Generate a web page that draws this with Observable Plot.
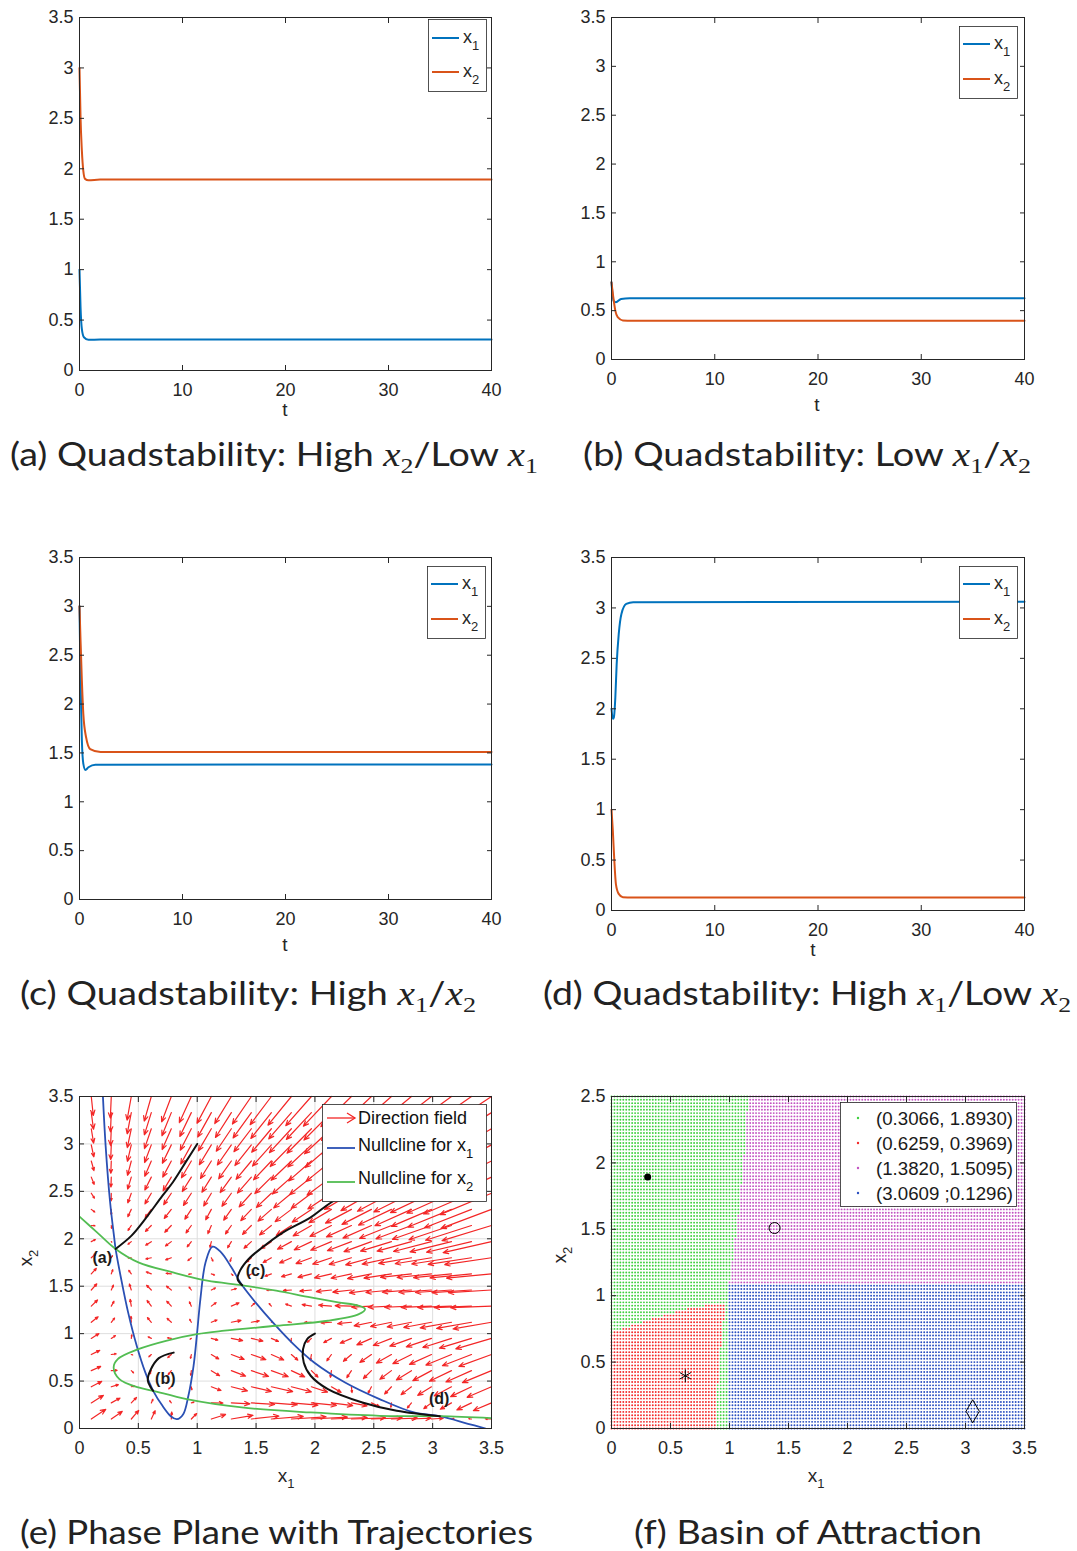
<!DOCTYPE html>
<html><head><meta charset="utf-8">
<script src="https://cdn.jsdelivr.net/npm/d3@7"></script>
<script src="https://cdn.jsdelivr.net/npm/@observablehq/plot@0.6"></script>
<style>
body{margin:0;background:#fff;}
#page{position:relative;width:1077px;height:1551px;overflow:hidden;background:#fff;}
#page svg{position:absolute;}
</style></head><body><div id="page"></div>
<script>
// ---------- time-series data ----------
const a_t1=[0,0.1,0.23,0.43,0.87,2,40];       const a_x1=[1.0,0.63,0.41,0.33,0.305,0.3066,0.3066];
const a_t2=[0,0.1,0.23,0.37,0.54,0.87,2,40];  const a_x2=[3.0,2.51,2.18,1.98,1.90,1.886,1.893,1.893];
const b_t1=[0,0.2,0.43,0.93,1.76,40];         const b_x1=[0.79,0.60,0.586,0.62,0.626,0.6259];
const b_t2=[0,0.17,0.37,0.6,1.1,2,40];        const b_x2=[0.79,0.64,0.50,0.433,0.40,0.397,0.3969];
const c_t1=[0,0.1,0.23,0.37,0.57,0.87,1.54,40]; const c_x1=[3.0,2.24,1.63,1.39,1.326,1.353,1.38,1.382];
const c_t2=[0,0.1,0.23,0.37,0.64,1.04,2.04,40]; const c_x2=[3.0,2.65,2.24,1.90,1.66,1.54,1.51,1.5095];
const d_t1=[0,0.13,0.23,0.37,0.5,0.7,0.96,1.43,2.1,40]; const d_x1=[2.0,1.90,1.915,2.11,2.44,2.74,2.94,3.04,3.057,3.0609];
const d_t2=[0,0.13,0.27,0.43,0.7,1.1,2,40];  const d_x2=[1.0,0.79,0.50,0.26,0.165,0.132,0.1296,0.1296];

const tTicks=[0,10,20,30,40];
const yTicks35=[0,0.5,1,1.5,2,2.5,3,3.5];
const xTicks35=[0,0.5,1,1.5,2,2.5,3,3.5];
const yTicks25=[0,0.5,1,1.5,2,2.5];

// ---------- phase plane data ----------
const nullX1_x=[0.199,0.222,0.26,0.296,0.3066,0.354,0.413,0.486,0.559,0.6259,0.705,0.778,0.828,0.881,0.925,0.969,0.998,1.027,1.071,1.13,1.203,1.29,1.382,1.495,1.642,1.817,1.993,2.256,2.549,2.842,3.0609,3.30,3.45];
const nullX1_y=[3.5,2.98,2.385,2.0,1.893,1.576,1.224,0.872,0.591,0.3969,0.239,0.127,0.098,0.151,0.345,0.661,0.995,1.365,1.752,1.917,1.857,1.699,1.5095,1.33,1.119,0.89,0.696,0.485,0.31,0.169,0.1296,0.05,0.0];
const nullX2_x=[0,0.149,0.3066,0.5,0.793,1.086,1.382,1.671,1.964,2.198,2.373,2.426,2.373,2.11,1.671,1.232,0.998,0.735,0.5,0.325,0.29,0.339,0.5,0.6259,0.91,1.378,1.964,2.549,3.0609,3.5];
const nullX2_y=[2.234,2.068,1.893,1.752,1.646,1.558,1.5095,1.453,1.382,1.33,1.294,1.259,1.206,1.136,1.083,1.031,0.995,0.925,0.837,0.732,0.644,0.521,0.433,0.3969,0.31,0.222,0.169,0.134,0.1296,0.109];
const trajA_x=[1.0,0.91,0.793,0.705,0.559,0.442,0.3066]; const trajA_y=[3.0,2.824,2.596,2.455,2.209,2.033,1.893];
const trajB_x=[0.8,0.674,0.603,0.58,0.603,0.6259];     const trajB_y=[0.8,0.742,0.615,0.509,0.438,0.3969];
const trajC_x=[3.0,2.6,2.14,1.964,1.73,1.554,1.437,1.364,1.343,1.382]; const trajC_y=[3.0,2.7,2.385,2.226,2.068,1.91,1.787,1.664,1.576,1.5095];
const trajD_x=[2.0,1.934,1.899,1.905,1.964,2.11,2.403,2.695,3.0609]; const trajD_y=[1.0,0.943,0.837,0.696,0.556,0.415,0.274,0.186,0.1296];
const trajLabels=["(a)","(b)","(c)","(d)"];
const trajLabel_x=[0.193,0.729,1.495,3.055];
const trajLabel_y=[1.804,0.528,1.664,0.31];

// direction field: grid positions and arrow components as drawn
const fieldX=[0.1,0.27,0.44,0.61,0.78,0.95,1.12,1.29,1.46,1.63,1.8,1.97,2.14,2.31,2.48,2.65,2.82,2.99,3.16,3.33,3.5];
const fieldY=[0.1,0.27,0.44,0.61,0.78,0.95,1.12,1.29,1.46,1.63,1.8,1.97,2.14,2.31,2.48,2.65,2.82,2.99,3.16,3.33,3.5];
// horizontal components, one row per fieldY value
const fieldU=[
[0.123,0.093,0.063,0.033,0.004,0.045,0.121,0.184,0.234,0.271,0.295,0.306,0.304,0.29,0.262,0.221,0.167,0.10,0.021,-0.023,-0.053],
[0.103,0.074,0.044,0.014,-0.014,0.023,0.099,0.157,0.197,0.22,0.225,0.212,0.181,0.133,0.068,-0.005,-0.035,-0.065,-0.095,-0.124,-0.154],
[0.089,0.06,0.03,0,-0.022,0.005,0.082,0.137,0.17,0.181,0.17,0.137,0.082,0.005,-0.028,-0.058,-0.088,-0.117,-0.147,-0.177,-0.207],
[0.08,0.05,0.02,-0.012,-0.027,-0.004,0.07,0.121,0.146,0.143,0.113,0.056,-0.009,-0.039,-0.068,-0.098,-0.128,-0.158,-0.187,-0.217,-0.247],
[0.072,0.042,0.012,-0.021,-0.03,-0.007,0.063,0.109,0.123,0.105,0.055,-0.009,-0.039,-0.068,-0.098,-0.128,-0.158,-0.187,-0.217,-0.247,-0.277],
[0.065,0.035,0.005,-0.027,-0.033,-0.011,0.055,0.096,0.098,0.06,-0.005,-0.035,-0.065,-0.095,-0.124,-0.154,-0.184,-0.214,-0.243,-0.273,-0.303],
[0.058,0.028,-0.003,-0.033,-0.036,-0.014,0.048,0.082,0.068,0.005,-0.028,-0.058,-0.088,-0.117,-0.147,-0.177,-0.207,-0.236,-0.266,-0.296,-0.326],
[0.053,0.023,-0.01,-0.036,-0.039,-0.016,0.041,0.065,0.028,-0.019,-0.049,-0.079,-0.109,-0.138,-0.168,-0.198,-0.228,-0.257,-0.287,-0.317,-0.347],
[0.047,0.018,-0.016,-0.04,-0.041,-0.019,0.035,0.043,-0.009,-0.039,-0.068,-0.098,-0.128,-0.158,-0.187,-0.217,-0.247,-0.277,-0.306,-0.336,-0.366],
[0.043,0.013,-0.022,-0.043,-0.044,-0.023,0.027,0.014,-0.025,-0.054,-0.084,-0.114,-0.144,-0.173,-0.203,-0.233,-0.263,-0.292,-0.322,-0.352,-0.382],
[0.039,0.01,-0.026,-0.047,-0.048,-0.029,0.014,-0.011,-0.04,-0.07,-0.1,-0.13,-0.159,-0.189,-0.219,-0.249,-0.278,-0.308,-0.338,-0.368,-0.397],
[0.035,0.005,-0.028,-0.048,-0.05,-0.035,-0.012,-0.032,-0.062,-0.09,-0.118,-0.146,-0.175,-0.204,-0.233,-0.263,-0.292,-0.322,-0.352,-0.382,-0.411],
[0.032,0.003,-0.028,-0.05,-0.055,-0.045,-0.03,-0.05,-0.075,-0.1,-0.128,-0.155,-0.182,-0.212,-0.242,-0.271,-0.301,-0.331,-0.361,-0.39,-0.42],
[0.03,0,-0.03,-0.052,-0.06,-0.055,-0.048,-0.065,-0.09,-0.114,-0.138,-0.163,-0.191,-0.22,-0.25,-0.28,-0.31,-0.34,-0.369,-0.399,-0.429],
[0.027,-0.001,-0.03,-0.054,-0.065,-0.067,-0.065,-0.08,-0.104,-0.127,-0.15,-0.172,-0.2,-0.229,-0.259,-0.289,-0.319,-0.348,-0.378,-0.408,-0.438],
[0.025,-0.003,-0.031,-0.055,-0.07,-0.077,-0.08,-0.095,-0.118,-0.14,-0.162,-0.184,-0.207,-0.235,-0.264,-0.294,-0.324,-0.354,-0.383,-0.413,-0.443],
[0.023,-0.004,-0.032,-0.056,-0.073,-0.084,-0.092,-0.108,-0.13,-0.151,-0.172,-0.193,-0.215,-0.24,-0.268,-0.297,-0.327,-0.357,-0.386,-0.416,-0.446],
[0.022,-0.005,-0.033,-0.057,-0.076,-0.09,-0.102,-0.119,-0.14,-0.16,-0.18,-0.2,-0.222,-0.245,-0.272,-0.3,-0.33,-0.36,-0.389,-0.419,-0.449],
[0.02,-0.006,-0.034,-0.058,-0.078,-0.094,-0.11,-0.128,-0.148,-0.167,-0.187,-0.207,-0.228,-0.25,-0.275,-0.303,-0.332,-0.362,-0.392,-0.421,-0.451],
[0.019,-0.007,-0.035,-0.059,-0.08,-0.098,-0.116,-0.135,-0.155,-0.174,-0.193,-0.213,-0.233,-0.255,-0.279,-0.306,-0.335,-0.364,-0.394,-0.423,-0.453],
[0.017,-0.008,-0.036,-0.06,-0.082,-0.102,-0.122,-0.141,-0.161,-0.18,-0.199,-0.218,-0.238,-0.26,-0.283,-0.309,-0.337,-0.366,-0.396,-0.425,-0.455]];
// vertical components, one column per fieldX value (listed bottom to top)
const fieldV_cols=[
[0.102,0.08,0.058,0.044,0.044,0.051,0.058,0.065,0.065,0.058,0.044,0.022,-0.003,-0.028,-0.052,-0.077,-0.102,-0.126,-0.151,-0.175,-0.2],
[0.08,0.051,0.022,0.004,0.007,0.029,0.044,0.051,0.051,0.044,0.022,-0.006,-0.03,-0.055,-0.08,-0.104,-0.129,-0.154,-0.178,-0.203,-0.228],
[0.09,0.057,0.007,-0.024,-0.005,0.037,0.062,0.071,0.062,0.037,-0.003,-0.028,-0.052,-0.077,-0.102,-0.126,-0.151,-0.175,-0.2,-0.225,-0.249],
[0.087,0.038,-0.011,-0.035,-0.024,0.017,0.049,0.06,0.05,0.021,-0.013,-0.038,-0.062,-0.087,-0.112,-0.136,-0.161,-0.186,-0.21,-0.235,-0.26],
[0.073,0.023,-0.022,-0.042,-0.032,0.006,0.041,0.052,0.041,0.006,-0.022,-0.046,-0.071,-0.096,-0.12,-0.145,-0.17,-0.194,-0.219,-0.244,-0.268],
[0.058,0.009,-0.032,-0.049,-0.041,-0.008,0.031,0.045,0.031,-0.004,-0.029,-0.054,-0.078,-0.103,-0.128,-0.152,-0.177,-0.202,-0.226,-0.251,-0.276],
[0.048,-0.001,-0.039,-0.054,-0.047,-0.018,0.024,0.038,0.022,-0.012,-0.036,-0.061,-0.086,-0.11,-0.135,-0.16,-0.184,-0.209,-0.233,-0.258,-0.283],
[0.039,-0.01,-0.044,-0.058,-0.051,-0.023,0.019,0.035,0.016,-0.015,-0.04,-0.065,-0.089,-0.114,-0.138,-0.163,-0.188,-0.212,-0.237,-0.262,-0.286],
[0.032,-0.016,-0.049,-0.061,-0.054,-0.028,0.015,0.031,0.008,-0.02,-0.045,-0.07,-0.094,-0.119,-0.144,-0.168,-0.193,-0.218,-0.242,-0.267,-0.291],
[0.028,-0.02,-0.051,-0.064,-0.058,-0.032,0.01,0.027,-0.001,-0.025,-0.05,-0.075,-0.099,-0.124,-0.149,-0.173,-0.198,-0.223,-0.247,-0.272,-0.297],
[0.023,-0.024,-0.054,-0.066,-0.06,-0.036,0.005,0.022,-0.006,-0.03,-0.055,-0.08,-0.104,-0.129,-0.154,-0.178,-0.203,-0.228,-0.252,-0.277,-0.302],
[0.02,-0.026,-0.056,-0.069,-0.064,-0.041,-0.001,0.017,-0.012,-0.036,-0.061,-0.086,-0.11,-0.135,-0.16,-0.184,-0.209,-0.233,-0.258,-0.283,-0.307],
[0.016,-0.029,-0.059,-0.071,-0.066,-0.044,-0.006,0.011,-0.017,-0.042,-0.067,-0.091,-0.116,-0.141,-0.165,-0.19,-0.215,-0.239,-0.264,-0.289,-0.313],
[0.013,-0.032,-0.061,-0.074,-0.071,-0.051,-0.015,0.005,-0.022,-0.046,-0.071,-0.096,-0.12,-0.145,-0.17,-0.194,-0.219,-0.244,-0.268,-0.293,-0.318],
[0.011,-0.038,-0.068,-0.083,-0.083,-0.068,-0.038,-0.01,-0.03,-0.05,-0.075,-0.105,-0.133,-0.158,-0.183,-0.207,-0.232,-0.257,-0.281,-0.306,-0.331],
[0.01,-0.046,-0.076,-0.091,-0.09,-0.075,-0.045,-0.012,-0.026,-0.044,-0.068,-0.1,-0.135,-0.165,-0.19,-0.215,-0.239,-0.264,-0.289,-0.313,-0.338],
[0.009,-0.053,-0.083,-0.098,-0.097,-0.082,-0.05,-0.012,-0.022,-0.036,-0.06,-0.1,-0.14,-0.172,-0.197,-0.222,-0.246,-0.271,-0.296,-0.32,-0.345],
[0.008,-0.06,-0.09,-0.105,-0.104,-0.089,-0.055,-0.013,-0.024,-0.038,-0.063,-0.104,-0.145,-0.179,-0.204,-0.229,-0.253,-0.278,-0.303,-0.327,-0.352],
[0.006,-0.067,-0.097,-0.112,-0.111,-0.096,-0.06,-0.014,-0.026,-0.04,-0.066,-0.108,-0.15,-0.186,-0.211,-0.236,-0.26,-0.285,-0.31,-0.334,-0.359],
[0.004,-0.074,-0.104,-0.119,-0.118,-0.103,-0.065,-0.015,-0.027,-0.042,-0.069,-0.112,-0.155,-0.193,-0.218,-0.243,-0.267,-0.292,-0.317,-0.341,-0.366],
[0.003,-0.081,-0.111,-0.126,-0.125,-0.11,-0.07,-0.016,-0.028,-0.044,-0.072,-0.116,-0.16,-0.2,-0.225,-0.25,-0.274,-0.299,-0.324,-0.348,-0.373]];

// ---------- basin data ----------
const equilibria_x=[0.3066,0.6259,1.3820,3.0609];
const equilibria_y=[1.8930,0.3969,1.5095,0.1296];
const basinLabels=["(0.3066, 1.8930)","(0.6259, 0.3969)","(1.3820, 1.5095)","(3.0609 ;0.1296)"];
const basinColors=["#3fcf3f","#f22a2a","#c253c2","#2a4fc0"];
// boundaries
const bGreenPink_y=[1.1,1.5,2.0,2.5],  bGreenPink_x=[1.0,1.06,1.12,1.16];
const bPinkBlue_x=[1.0,2.0,3.5],       bPinkBlue_y=[1.10,1.13,1.17];
const bGreenRed_x=[0,0.25,0.5,0.75,0.97], bGreenRed_y=[0.72,0.80,0.87,0.92,0.95];
const bRedBlue_y=[0,0.5,0.95],         bRedBlue_x=[0.88,0.91,0.97];
const gridStep=0.025;

// ---------- colours & helpers ----------
const BLUE="#0072BD", ORANGE="#D95319", AX="#262626";
const NBLUE="#2a50b4", NGREEN="#52bd52", ARROW="#f32626";
const FONT="'Liberation Sans', Arial, Helvetica, sans-serif";
const fmt=d=>String(d);
const rows=(t,v)=>t.map((tt,i)=>({t:tt,v:v[i]}));
const pts=(x,y)=>x.map((xx,i)=>({x:xx,y:y[i]}));
const page=document.getElementById("page");
function place(svg,left,top){svg.style.left=left+"px";svg.style.top=top+"px";page.appendChild(svg);}
const style={fontFamily:FONT,fontSize:"18px",color:AX,background:"transparent",overflow:"visible"};

function boxAxes(xt,yt,xPad){
  const none=()=>"";
  return [
    Plot.frame({stroke:AX,strokeWidth:1}),
    Plot.axisX(xt,{tickSize:0,tickPadding:xPad,tickFormat:fmt,label:null}),
    Plot.axisX(xt,{anchor:"bottom",tickSize:-5,tickFormat:none,label:null}),
    Plot.axisX(xt,{anchor:"top",tickSize:-5,tickFormat:none,label:null}),
    Plot.axisY(yt,{tickSize:0,tickPadding:6,tickFormat:fmt,label:null}),
    Plot.axisY(yt,{anchor:"left",tickSize:-5,tickFormat:none,label:null}),
    Plot.axisY(yt,{anchor:"right",tickSize:-5,tickFormat:none,label:null})
  ];
}
function tsPanel(cfg){
  const p=Plot.plot({width:cfg.w,height:cfg.h,marginTop:cfg.mt,marginBottom:cfg.mb,marginLeft:cfg.ml,marginRight:cfg.mr,
    x:{domain:[0,40]},y:{domain:[0,3.5]},style,
    marks:[
      Plot.line(cfg.s1,{x:"t",y:"v",stroke:BLUE,strokeWidth:2,curve:"monotone-x"}),
      Plot.line(cfg.s2,{x:"t",y:"v",stroke:ORANGE,strokeWidth:2,curve:"monotone-x"}),
      ...boxAxes(tTicks,yTicks35,cfg.pad)
    ]});
  place(p,cfg.left,cfg.top);
}
tsPanel({left:0,top:0,w:540,h:420,mt:17,mb:50,ml:79,mr:49,pad:13,s1:rows(a_t1,a_x1),s2:rows(a_t2,a_x2)});
tsPanel({left:540,top:0,w:537,h:420,mt:17,mb:61,ml:71,mr:53,pad:13,s1:rows(b_t1,b_x1),s2:rows(b_t2,b_x2)});
tsPanel({left:0,top:540,w:540,h:420,mt:17,mb:61,ml:79,mr:49,pad:13,s1:rows(c_t1,c_x1),s2:rows(c_t2,c_x2)});
tsPanel({left:540,top:540,w:537,h:420,mt:17,mb:50,ml:71,mr:53,pad:13,s1:rows(d_t1,d_x1),s2:rows(d_t2,d_x2)});

// ---------- (e) phase plane ----------
const fieldRows=[];
fieldY.forEach((y,j)=>fieldX.forEach((x,i)=>fieldRows.push({x,y,u:fieldU[j][i],v:fieldV_cols[i][j]})));
const trajRows=[[trajA_x,trajA_y,"a"],[trajB_x,trajB_y,"b"],[trajC_x,trajC_y,"c"],[trajD_x,trajD_y,"d"]]
  .flatMap(([xs,ys,id])=>xs.map((x,i)=>({x,y:ys[i],id})));
const labelRows=trajLabels.map((t,i)=>({t,x:trajLabel_x[i],y:trajLabel_y[i]}));
const pe=Plot.plot({width:540,height:425,marginTop:16,marginBottom:77,marginLeft:79,marginRight:49,
  x:{domain:[0,3.5]},y:{domain:[0,3.5]},style,
  marks:[
    Plot.gridX(xTicks35,{stroke:"#dedede",strokeOpacity:1}),
    Plot.gridY(yTicks35,{stroke:"#dedede",strokeOpacity:1}),
    Plot.arrow(fieldRows,{x1:"x",y1:"y",x2:d=>d.x+d.u,y2:d=>d.y+d.v,stroke:ARROW,strokeWidth:1.2,headLength:7,headAngle:45}),
    Plot.line(pts(nullX1_x,nullX1_y),{x:"x",y:"y",stroke:NBLUE,strokeWidth:1.8,curve:"catmull-rom",clip:true}),
    Plot.line(pts(nullX2_x,nullX2_y),{x:"x",y:"y",stroke:NGREEN,strokeWidth:1.8,curve:"catmull-rom",clip:true}),
    Plot.line(trajRows,{x:"x",y:"y",z:"id",stroke:"#111",strokeWidth:2,curve:"catmull-rom",clip:true}),
    Plot.text(labelRows,{x:"x",y:"y",text:"t",fontWeight:"bold",fontSize:16,fill:"#1a1a1a"}),
    ...boxAxes(xTicks35,yTicks35,13)
  ]});
place(pe,0,1080);

// ---------- (f) basins ----------
const fGP=d3.scaleLinear(bGreenPink_y,bGreenPink_x).clamp(true);
const fPB=d3.scaleLinear(bPinkBlue_x,bPinkBlue_y).clamp(true);
const fGR=d3.scaleLinear(bGreenRed_x,bGreenRed_y).clamp(true);
const fRB=d3.scaleLinear(bRedBlue_y,bRedBlue_x).clamp(true);
function basinOf(x,y){
  if(x>=1.0 && y>=fPB(x)) return x<fGP(y)?0:2;
  if(y>=1.1) return x<fGP(y)?0:2;
  if(y<0.95 && x<fRB(y)) return y<fGR(x)?1:0;
  return x<0.985?0:3;
}
const basinGrid=[];
for(let i=0;i*gridStep<=3.5+1e-9;i++)for(let j=0;j*gridStep<=2.5+1e-9;j++){
  const x=i*gridStep,y=j*gridStep;basinGrid.push({x,y,b:basinOf(x,y)});
}
const eq=equilibria_x.map((x,i)=>({x,y:equilibria_y[i]}));
const pf=Plot.plot({width:537,height:425,marginTop:16,marginBottom:77,marginLeft:71,marginRight:53,
  x:{domain:[0,3.5]},y:{domain:[0,2.5]},color:{domain:[0,1,2,3],range:basinColors},style,
  marks:[
    Plot.dot(basinGrid,{x:"x",y:"y",fill:"b",r:0.95}),
    Plot.dot([eq[0]],{x:"x",y:"y",r:3.5,fill:"#000"}),
    Plot.dot([eq[1]],{x:"x",y:"y",r:6,symbol:"asterisk",stroke:"#000",strokeWidth:1}),
    Plot.dot([eq[2]],{x:"x",y:"y",r:5.5,stroke:"#000",fill:"none",strokeWidth:1}),
    Plot.dot([eq[3]],{x:"x",y:"y",r:7,symbol:"diamond",stroke:"#000",fill:"none",strokeWidth:1}),
    ...boxAxes(xTicks35,yTicks25,13)
  ]});
place(pf,540,1080);

// ---------- overlay: legends, labels, captions ----------
const ov=d3.select(page).append("svg").attr("width",1077).attr("height",1551).style("left","0px").style("top","0px");
function tsLegend(x,y,w,h,y1,y2){
  const g=ov.append("g");
  g.append("rect").attr("x",x+0.5).attr("y",y+0.5).attr("width",w).attr("height",h).attr("fill","#fff").attr("stroke",AX).attr("stroke-width",0.8);
  [[y1,BLUE,"1"],[y2,ORANGE,"2"]].forEach(([yy,c,s])=>{
    g.append("line").attr("x1",x+4).attr("x2",x+31).attr("y1",yy).attr("y2",yy).attr("stroke",c).attr("stroke-width",2);
    const t=g.append("text").attr("x",x+35).attr("y",yy+5).attr("font-family",FONT).attr("font-size",18).attr("fill",AX);
    t.append("tspan").text("x");
    t.append("tspan").attr("dy",7).attr("font-size",13).text(s);
  });
}
tsLegend(428,19,58,72,38,72);
tsLegend(959,26,58,72,44,79);
tsLegend(427,566,58,72,584,619);
tsLegend(959,566,58,72,584,619);

function label(x,y,main,sub,rot){
  const t=ov.append("text").attr("font-family",FONT).attr("font-size",19).attr("fill",AX).attr("text-anchor","middle")
    .attr("transform",`translate(${x},${y})`+(rot?" rotate(-90)":""));
  t.append("tspan").text(main);
  if(sub) t.append("tspan").attr("dy",6).attr("font-size",13).text(sub);
}
label(285,416,"t");label(817,411,"t");label(285,951,"t");label(813,956,"t");
label(286,1482,"x","1");label(816,1482,"x","1");
label(32,1258,"x","2",true);label(566,1255,"x","2",true);

// legend (e)
{
  const g=ov.append("g");
  g.append("rect").attr("x",322.5).attr("y",1104.5).attr("width",164).attr("height",97).attr("fill","#fff").attr("stroke",AX).attr("stroke-width",0.8);
  g.append("line").attr("x1",327).attr("x2",355).attr("y1",1118).attr("y2",1118).attr("stroke",ARROW).attr("stroke-width",1.3);
  g.append("path").attr("d","M347,1113L355,1118L347,1123").attr("fill","none").attr("stroke",ARROW).attr("stroke-width",1.3);
  g.append("line").attr("x1",327).attr("x2",355).attr("y1",1148).attr("y2",1148).attr("stroke",NBLUE).attr("stroke-width",1.8);
  g.append("line").attr("x1",327).attr("x2",355).attr("y1",1182).attr("y2",1182).attr("stroke",NGREEN).attr("stroke-width",1.8);
  const items=[["Direction field",null,1124],["Nullcline for x","1",1151],["Nullcline for x","2",1184]];
  items.forEach(([m,s,yy])=>{
    const t=g.append("text").attr("x",358).attr("y",yy).attr("font-family",FONT).attr("font-size",18).attr("fill","#111");
    t.append("tspan").text(m);
    if(s) t.append("tspan").attr("dy",7).attr("font-size",13).text(s);
  });
}
// legend (f)
{
  const g=ov.append("g");
  g.append("rect").attr("x",840.5).attr("y",1102.5).attr("width",176).attr("height",104).attr("fill","#fff").attr("stroke",AX).attr("stroke-width",0.8);
  const ys=[1118,1143,1168,1193];
  basinLabels.forEach((s,i)=>{
    g.append("circle").attr("cx",858).attr("cy",ys[i]).attr("r",1.2).attr("fill",basinColors[i]);
    g.append("text").attr("x",876).attr("y",ys[i]+6.5).attr("font-family",FONT).attr("font-size",18).attr("fill","#1a1a1a")
      .attr("textLength",137).attr("lengthAdjust","spacingAndGlyphs").text(s);
  });
}
// captions
const SANS="Lato, 'Open Sans', 'DejaVu Sans', sans-serif", SERIF="'Liberation Serif', 'DejaVu Serif', serif";
function caption(x0,x1,y,parts){
  const t=ov.append("text").attr("x",x0).attr("y",y).attr("font-family",SANS).attr("font-weight",400).attr("font-size",32).attr("fill","#222")
    .attr("textLength",x1-x0).attr("lengthAdjust","spacingAndGlyphs");
  let low=false;
  parts.forEach(p=>{
    const s=t.append("tspan");
    if(p.m){s.attr("font-family",SERIF).attr("font-style","italic").attr("font-size",33).text(p.m);}
    else if(p.sub){s.attr("font-family",SERIF).attr("font-size",22).attr("dy",7).text(p.sub);low=true;return;}
    else s.text(p.t);
    if(low){s.attr("dy",-7);low=false;}
  });
}
caption(10,538,466,[{t:"(a) Quadstability:  High "},{m:"x"},{sub:"2"},{t:"/Low "},{m:"x"},{sub:"1"}]);
caption(583,1031,466,[{t:"(b) Quadstability:  Low "},{m:"x"},{sub:"1"},{t:"/"},{m:"x"},{sub:"2"}]);
caption(20,476,1005,[{t:"(c) Quadstability:  High "},{m:"x"},{sub:"1"},{t:"/"},{m:"x"},{sub:"2"}]);
caption(543,1071,1005,[{t:"(d) Quadstability:  High "},{m:"x"},{sub:"1"},{t:"/Low "},{m:"x"},{sub:"2"}]);
caption(20,533,1544,[{t:"(e) Phase Plane with Trajectories"}]);
caption(634,982,1544,[{t:"(f) Basin of Attraction"}]);
</script></body></html>
